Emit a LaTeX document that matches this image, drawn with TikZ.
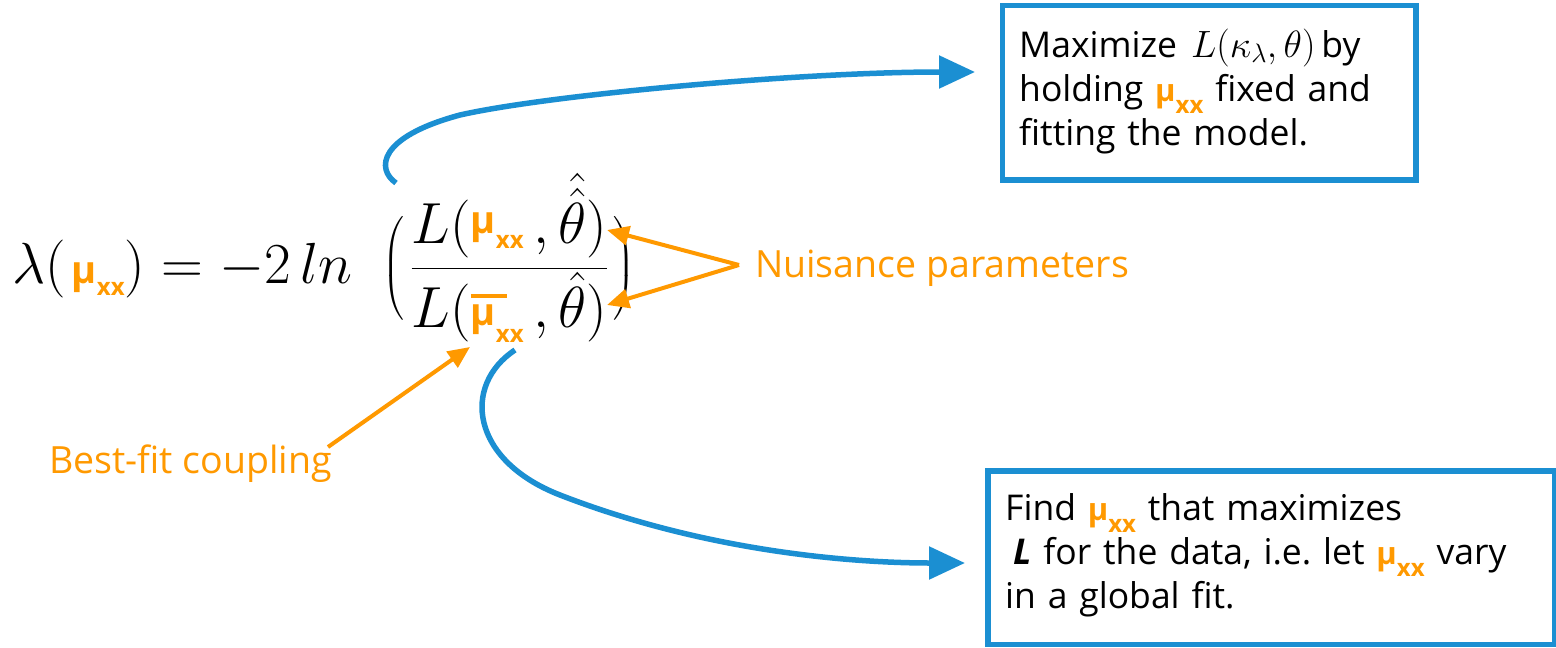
\RequirePackage{fix-cm}
\documentclass[tikz,border=0pt]{standalone}
\usepackage{amsmath}
\usepackage{fontspec}
\usetikzlibrary{arrows.meta}
\newfontfamily\osans{Open Sans}
\definecolor{accent}{RGB}{255,153,0}
\definecolor{linkblue}{RGB}{27,143,210}
% mu_xx written in bold sans: #1 size of mu, #2 raise of mu, #3 drop of xx
\newcommand\muxx[3]{\mbox{\color{accent}\osans\bfseries\raisebox{#2}{\fontsize{#1}{#1}\selectfont μ}\raisebox{-#3}{\fontsize{24}{24}\selectfont xx}}}
% the same with a bar over it
\newcommand\muxxbar{\mbox{\color{accent}\rlap{\raisebox{30pt}{\rule{36pt}{4pt}}}}\muxx{38}{2pt}{15pt}}
\tikzset{
  panel/.style={draw=linkblue, line width=5.5pt, fill=white, inner sep=0pt, anchor=north west},
  panelText/.style={anchor=base west, inner sep=0pt, text width=#1, align=left,
    font=\osans\fontsize{35.5}{44}\selectfont\frenchspacing},
  note/.style={anchor=base west, inner sep=0pt, text=accent, font=\osans\fontsize{37.5}{44}\selectfont},
  flow/.style={draw=linkblue, line width=5.5pt, -{Triangle[length=36pt,width=32pt]}},
  pointer/.style={draw=accent, line width=4pt, -{Triangle[length=22pt,width=19pt]}},
}
\begin{document}
\begin{tikzpicture}[x=1pt,y=-1pt]
\useasboundingbox[fill=white] (0,0) rectangle (1556,648);

% the test statistic
\node[anchor=base west, inner sep=0pt] (ratio) at (12,283)
  {\fontsize{58}{64}\selectfont
   $\lambda(\hspace{6pt}\muxx{38}{0pt}{12pt}) = -2\,ln\hspace{30pt}\Big(\hspace{6pt}\dfrac{L(\muxx{38}{10pt}{5pt}\,,\hat{\hat{\theta}})}{L(\muxxbar\,,\hat{\theta})}\hspace{5pt}\Big)$};

% explanation panels
\node[panel, minimum width=413.5pt, minimum height=174.5pt] (fixbox) at (999.5,2.5) {};
\node[panelText=390pt] (fixtext) at (1019,57)
  {Maximize\hspace{14pt}{\fontsize{38}{44}\selectfont$L(\kappa_\lambda,\theta)$}\hspace{6pt}by\\
   holding \muxx{31}{0pt}{12pt} fixed and\\
   fitting the model.};

\node[panel, minimum width=567pt, minimum height=173.5pt] (fitbox) at (985,468) {};
\node[panelText=540pt] (fittext) at (1005,520)
  {Find \muxx{31}{0pt}{12pt} that maximizes\\
   \hspace*{8pt}{\bfseries\itshape L} for the data, i.e. let \muxx{31}{0pt}{12pt} vary\\
   in a global fit.};

% labels
\node[note] (nuis) at (755,277) {Nuisance parameters};
\node[note] (bestfit) at (49,473) {Best-fit coupling};

% arrow end points
\coordinate (apex) at (739,265);
\coordinate (numTheta) at (607,230);
\coordinate (denTheta) at (607,305);
\coordinate (bfStart) at (328,447);
\coordinate (barMu) at (470,347);
\coordinate (topTail) at (396,183);
\coordinate (topHead) at (975,72);
\coordinate (botTail) at (515,350);
\coordinate (botHead) at (965,563);

% orange pointers
\draw[pointer] (apex) -- (numTheta);
\draw[pointer] (apex) -- (denTheta);
\draw[pointer] (bfStart) -- (barMu);

% blue flow arrows
\draw[flow] (topTail) .. controls (376,169) and (378,137) .. (460,115)
  .. controls (548,95) and (800,72) .. (topHead);
\draw[flow] (botTail) .. controls (462,385) and (470,460) .. (560,495)
  .. controls (704,551) and (850,563) .. (botHead);
\end{tikzpicture}
\end{document}
